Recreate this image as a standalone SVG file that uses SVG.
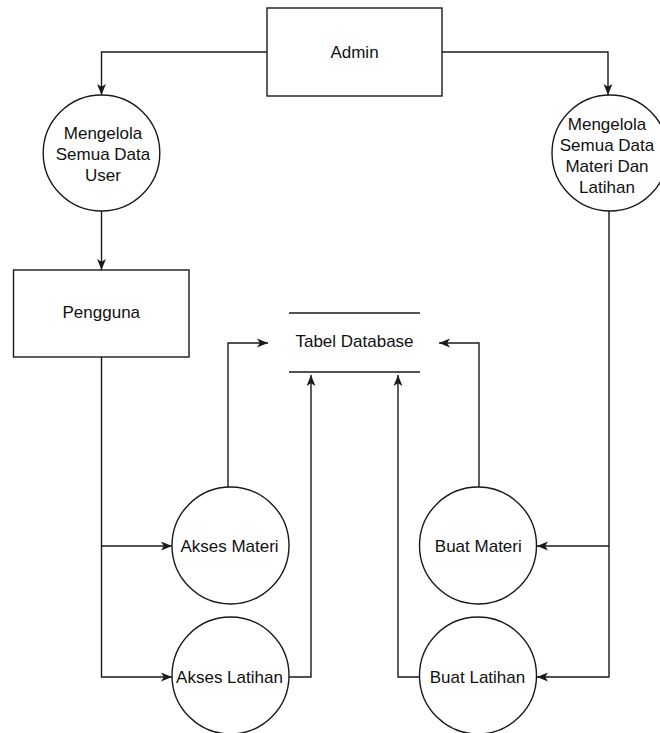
<svg xmlns="http://www.w3.org/2000/svg" width="660" height="733" viewBox="0 0 660 733">
  <style>
    .shape { fill: #ffffff; stroke: #1a1a1a; stroke-width: 1.4; }
    .line { fill: none; stroke: #1a1a1a; stroke-width: 1.4; }
    .arrow { fill: none; stroke: #1a1a1a; stroke-width: 1.4; marker-end: url(#ah); }
    text { font-family: "Liberation Sans", Arial, sans-serif; font-size: 17px; fill: #111111; text-anchor: middle; }
  </style>
  <defs>
    <marker id="ah" viewBox="0 0 10 10" refX="10" refY="5" markerWidth="11" markerHeight="11" markerUnits="userSpaceOnUse" orient="auto">
      <path d="M0,1 L10,5 L0,9 L2.6,5 z" fill="#1a1a1a"/>
    </marker>
  </defs>
  <rect width="660" height="733" fill="#ffffff"/>

  <g id="connectors">
    <path class="arrow" d="M267,52 H101.5 V95"/>
    <path class="arrow" d="M442,52 H608 V95"/>
    <path class="arrow" d="M101.5,211 V270"/>
    <path class="arrow" d="M101.5,357 V546 H172"/>
    <path class="arrow" d="M101.5,546 V677 H172"/>
    <path class="arrow" d="M228,487 V343 H268"/>
    <path class="arrow" d="M289,677 H311 V375"/>
    <path class="arrow" d="M479,487 V343 H439"/>
    <path class="arrow" d="M419,677 H398 V375"/>
    <path class="arrow" d="M609,211 V546 H537"/>
    <path class="arrow" d="M609,546 V677 H537"/>
  </g>

  <g id="admin">
    <rect class="shape" x="267" y="8" width="175" height="88"/>
    <text x="354.5" y="58">Admin</text>
  </g>

  <g id="mengelola-user">
    <ellipse class="shape" cx="101.5" cy="153" rx="58.3" ry="58"/>
    <text x="103" y="139">Mengelola</text>
    <text x="103" y="160">Semua Data</text>
    <text x="103" y="181">User</text>
  </g>

  <g id="mengelola-materi">
    <ellipse class="shape" cx="610" cy="153" rx="58" ry="58"/>
    <text x="607" y="130">Mengelola</text>
    <text x="607" y="151">Semua Data</text>
    <text x="607" y="172">Materi Dan</text>
    <text x="607" y="193">Latihan</text>
  </g>

  <g id="pengguna">
    <rect class="shape" x="13.5" y="270" width="175.5" height="87"/>
    <text x="101.3" y="318">Pengguna</text>
  </g>

  <g id="tabel-database">
    <line class="line" x1="289" y1="313" x2="420" y2="313"/>
    <line class="line" x1="289" y1="372" x2="420" y2="372"/>
    <text x="354.5" y="347">Tabel Database</text>
  </g>

  <g id="akses-materi">
    <ellipse class="shape" cx="230.5" cy="545.5" rx="58.5" ry="58.5"/>
    <text x="229.5" y="551.5">Akses Materi</text>
  </g>

  <g id="akses-latihan">
    <ellipse class="shape" cx="230.5" cy="675.5" rx="58.5" ry="58.5"/>
    <text x="229.5" y="682.5">Akses Latihan</text>
  </g>

  <g id="buat-materi">
    <ellipse class="shape" cx="478" cy="545.5" rx="58.5" ry="58.5"/>
    <text x="478.3" y="551.5">Buat Materi</text>
  </g>

  <g id="buat-latihan">
    <ellipse class="shape" cx="478" cy="675.5" rx="58.5" ry="58.5"/>
    <text x="477.5" y="682.5">Buat Latihan</text>
  </g>
</svg>
